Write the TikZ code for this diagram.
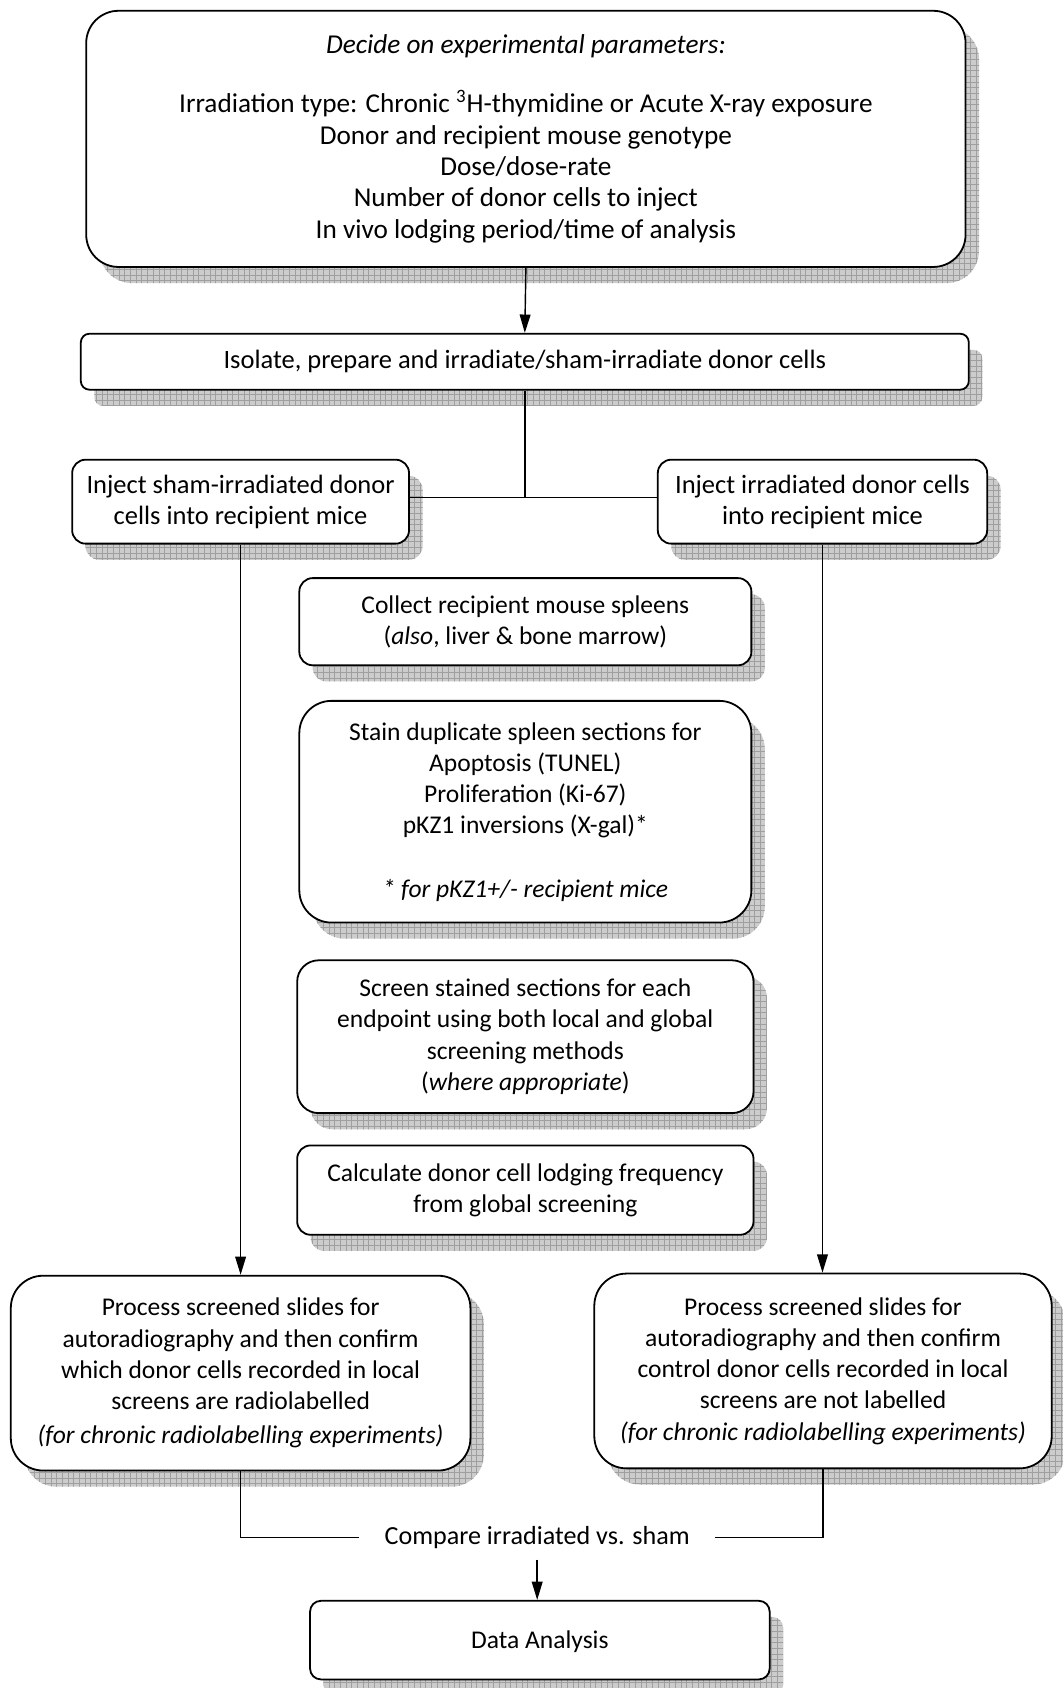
\documentclass[tikz,border=0pt]{standalone}
\usepackage{fontspec}
\setmainfont{Carlito}
\usetikzlibrary{arrows.meta,shadows,patterns,positioning}

\tikzset{
  box/.style={draw, line width=0.95pt, fill=white, align=center, inner sep=0pt,
    font=\fontsize{13.5}{16.5}\selectfont,
    drop shadow={shadow xshift=0.25cm, shadow yshift=-0.3cm, opacity=1, fill=gray!40,
      postaction={pattern=grid, pattern color=gray!75}}},
  link/.style={line width=0.75pt},
  flow/.style={link, -{Triangle[length=0.34cm,width=0.2cm]}}
}

\begin{document}
\begin{tikzpicture}[x=0.02cm, y=-0.02cm]
\useasboundingbox (0,0) rectangle (987,1568);

\node [box, rounded corners=0.6cm, minimum width=16.34cm, minimum height=4.76cm,
  font=\fontsize{14.4}{16.6}\selectfont] (params) at (488.5,129)
  {\textit{Decide on experimental parameters:}\\[14.5pt]
   Irradiation type: Chronic \textsuperscript{3}H-thymidine or Acute X-ray exposure\\
   Donor and recipient mouse genotype\\
   Dose/dose-rate\\
   Number of donor cells to inject\\
   In vivo lodging period/time of analysis};

\node [box, rounded corners=0.16cm, minimum width=16.5cm, minimum height=1.04cm,
  font=\fontsize{14}{16.5}\selectfont] (isolate) at (487.5,336)
  {Isolate, prepare and irradiate/sham-irradiate donor cells};

\node [box, rounded corners=0.25cm, minimum width=6.26cm, minimum height=1.56cm,
  font=\fontsize{14}{16.5}\selectfont] (sham) at (223.5,466)
  {Inject sham-irradiated donor\\ cells into recipient mice};
\node [box, rounded corners=0.25cm, minimum width=6.12cm, minimum height=1.56cm,
  font=\fontsize{14}{16.5}\selectfont] (irrad) at (764,466)
  {Inject irradiated donor cells\\ into recipient mice};

% % % % % % % % % % % % % % % % % % % % % % % % % %

\node [box, rounded corners=0.25cm, minimum width=8.4cm, minimum height=1.62cm] (collect) at (488,577.5)
  {Collect recipient mouse spleens\\ (\textit{also}, liver \& bone marrow)};
\node [box, rounded corners=0.6cm, minimum width=8.4cm, minimum height=4.12cm] (stain) at (488,754)
  {Stain duplicate spleen sections for\\ Apoptosis (TUNEL)\\ Proliferation (Ki-67)\\ pKZ1 inversions (X-gal)*\\[17pt]
   \textit{* for pKZ1+/- recipient mice}};
\node [box, rounded corners=0.4cm, minimum width=8.48cm, minimum height=2.84cm] (screen) at (488,963)
  {Screen stained sections for each\\ endpoint using both local and global\\ screening methods\\ (\textit{where appropriate})};
\node [box, rounded corners=0.25cm, minimum width=8.48cm, minimum height=1.66cm] (calc) at (488,1105.5)
  {Calculate donor cell lodging frequency\\ from global screening};

% % % % % % % % % % % % % % % % % % % % % % % % % %

\node [box, rounded corners=0.6cm, minimum width=8.54cm, minimum height=3.62cm] (procsham) at (223.5,1275.5)
  {Process screened slides for\\ autoradiography and then confirm\\ which donor cells recorded in local\\ screens are radiolabelled\\[1.5pt]
   \textit{(for chronic radiolabelling experiments)}};
\node [box, rounded corners=0.6cm, minimum width=8.5cm, minimum height=3.62cm] (procirrad) at (764.5,1273.5)
  {Process screened slides for\\ autoradiography and then confirm\\ control donor cells recorded in local\\ screens are not labelled\\
   \textit{(for chronic radiolabelling experiments)}};

\node [font=\fontsize{13.8}{16.5}\selectfont, inner xsep=0.46cm, inner ysep=0.2cm] (compare) at (499,1428) {Compare irradiated vs. sham};

\node [box, rounded corners=0.2cm, minimum width=8.54cm, minimum height=1.46cm, text depth=-0.1cm] (data) at (501.5,1523.5) {Data Analysis};

% % % % % % % % % % % % % % % % % % % % % % % % % %

\draw [flow] (params.south) -- (isolate.north);
\draw [link] (isolate.south) |- ([yshift=0.08cm]sham.east);
\draw [link] (isolate.south) |- ([yshift=0.08cm]irrad.west);
\draw [flow] (sham.south) -- (sham.south |- procsham.north);
\draw [flow] (irrad.south) -- (irrad.south |- procirrad.north);
\draw [link] (procsham.south) |- (compare.west);
\draw [link] (procirrad.south) |- (compare.east);
\draw [flow] (compare.south) -- (compare.south |- data.north);
\end{tikzpicture}
\end{document}
